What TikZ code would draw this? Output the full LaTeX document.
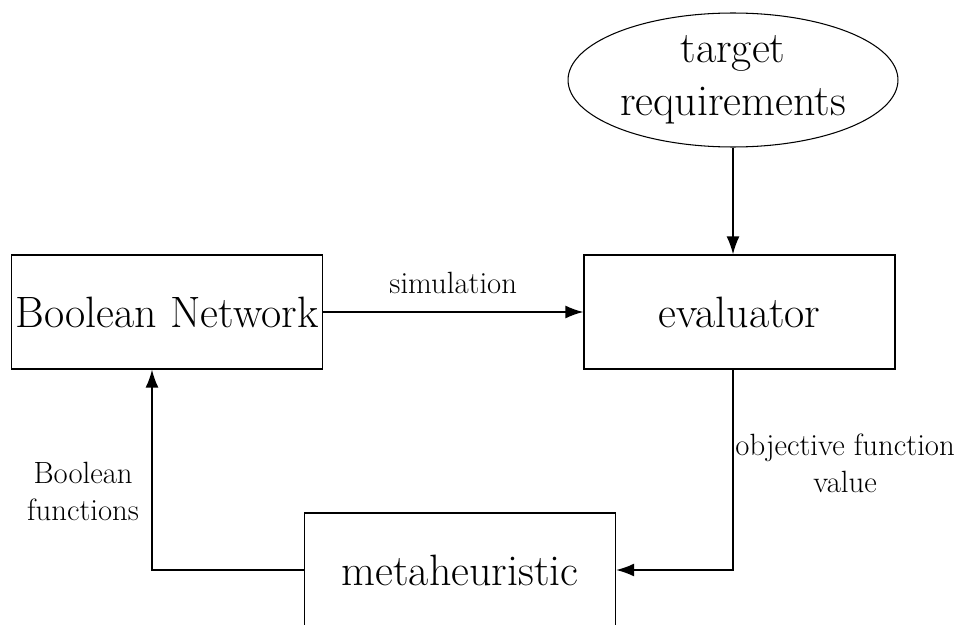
\documentclass[tikz,border=0pt]{standalone}
\usepackage{amsmath}
\usepackage{tikz}
\usetikzlibrary{calc,positioning,shapes,arrows.meta}

\begin{document}
\begin{tikzpicture}[x=0.02cm, y=-0.02cm, >={Latex[length=3.6mm,width=2.6mm]}, line width=0.8pt]
\tikzstyle{block}=[rectangle, draw, minimum width=6.22cm, minimum height=2.28cm,
                   inner sep=0pt, font=\fontsize{25}{28}\selectfont]
\tikzstyle{goal}=[ellipse, draw, line width=0.6pt, minimum width=6.6cm, minimum height=2.68cm,
                  inner sep=0pt, align=center, font=\fontsize{25}{30}\selectfont]
\tikzstyle{lbl}=[align=center, inner sep=3pt, font=\fontsize{17.5}{21}\selectfont]
\useasboundingbox (0,0) rectangle (960,625);
\node[goal] (target) at (733,80) {target\\requirements};
\node[block] (bn) at (167,312) {Boolean Network};
\node[block] (eval) at (739.5,312) {evaluator};
\node[block] (meta) at (460,570) {metaheuristic};
\coordinate (turn) at (152,570);
\draw[->] (target) -- (target.south |- eval.north);
\draw[->] (bn) -- node[lbl, midway, above=7pt] {simulation} (eval);
\draw[->] (target.south |- eval.south) |- node[lbl, pos=0.234, right, inner sep=1pt] {objective function\\value} (meta);
\draw[->] (meta.west) -- (turn) -- node[lbl, pos=0.39, left=4pt] {Boolean\\functions} (turn |- bn.south);
\end{tikzpicture}
\end{document}
